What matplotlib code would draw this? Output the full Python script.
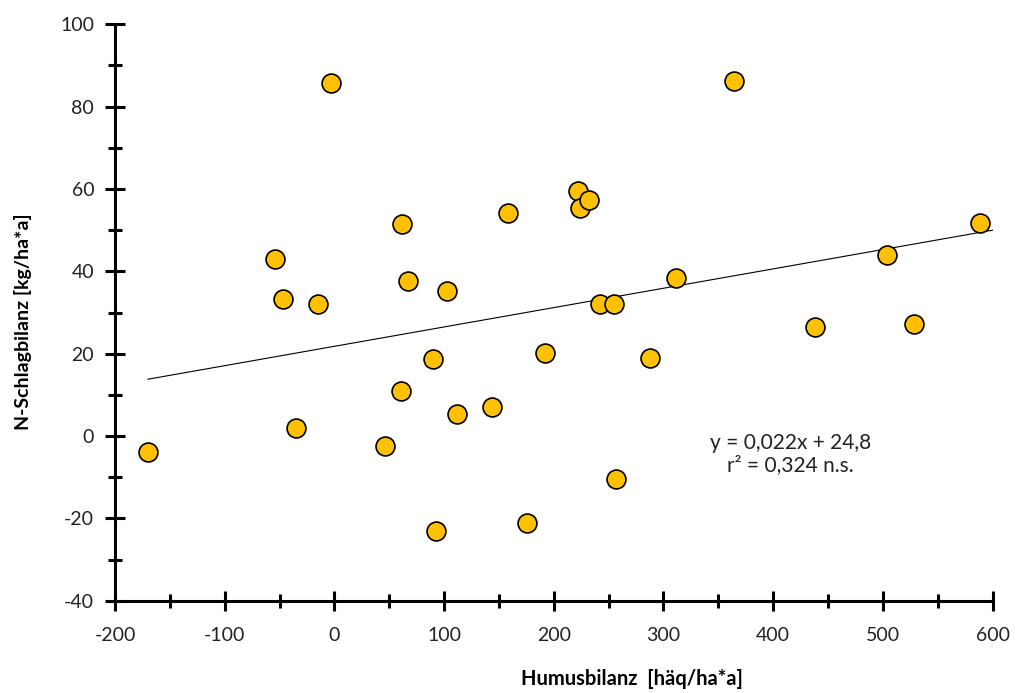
import numpy as np
import matplotlib.pyplot as plt
from matplotlib.ticker import MultipleLocator

# Humusbilanz [häq/ha*a] und N-Schlagbilanz [kg/ha*a]
humus = [-170, -3, -54, -47, -15, -35, 46, 62, 67, 61, 90, 103, 112, 93,
         144, 158, 192, 176, 222, 224, 232, 242, 255, 257, 288, 311, 364,
         438, 504, 528, 589]
n_bilanz = [-3.9, 85.7, 43.0, 33.3, 32.0, 1.9, -2.4, 51.5, 37.6, 10.9, 18.7,
            35.2, 5.3, -23.1, 7.0, 54.1, 20.1, -21.1, 59.5, 55.3, 57.3, 32.0,
            32.0, -10.4, 18.9, 38.3, 86.2, 26.5, 43.9, 27.2, 51.7]

# Trendlinie (wie im Original gezeichnet)
trend_x = [-170, 600]
trend_slope = 0.047
trend_intercept = 21.8

plt.rcParams['font.family'] = ['Lato', 'DejaVu Sans']
plt.rcParams['axes.unicode_minus'] = False

fig = plt.figure(figsize=(10.18, 6.93), dpi=100)
ax = fig.add_axes([0.113, 0.133, 0.862, 0.832])

trend_y = [trend_slope * x + trend_intercept for x in trend_x]
ax.plot(trend_x, trend_y, color='black', linewidth=0.8, zorder=2)

ax.scatter(humus, n_bilanz, s=185, color='#FFC000', edgecolors='black',
           linewidths=1.2, zorder=3, clip_on=False)

ax.text(416, -4.4, 'y = 0,022x + 24,8\nr² = 0,324 n.s.', ha='center', va='center',
        fontsize=15, color='#222222', linespacing=1.15)

ax.set_xlim(-200, 600)
ax.set_ylim(-40, 100)
ax.xaxis.set_major_locator(MultipleLocator(100))
ax.xaxis.set_minor_locator(MultipleLocator(50))
ax.yaxis.set_major_locator(MultipleLocator(20))
ax.yaxis.set_minor_locator(MultipleLocator(10))

for side in ['top', 'right']:
    ax.spines[side].set_visible(False)
for side in ['left', 'bottom']:
    ax.spines[side].set_linewidth(2.2)

ax.tick_params(which='major', direction='inout', length=14, width=2.2,
               labelsize=14, colors='black', labelcolor='#222222', pad=8)
ax.tick_params(which='minor', direction='inout', length=10, width=2.2)
ax.tick_params(axis='x', pad=12)

ax.set_xlabel('Humusbilanz  [häq/ha*a]', fontsize=14.5, fontweight='bold', labelpad=18)
ax.xaxis.label.set_x(0.589)
ax.set_ylabel('N-Schlagbilanz [kg/ha*a]', fontsize=14, fontweight='bold', labelpad=20)
ax.yaxis.label.set_y(0.485)

plt.savefig('out.png', dpi=100)
